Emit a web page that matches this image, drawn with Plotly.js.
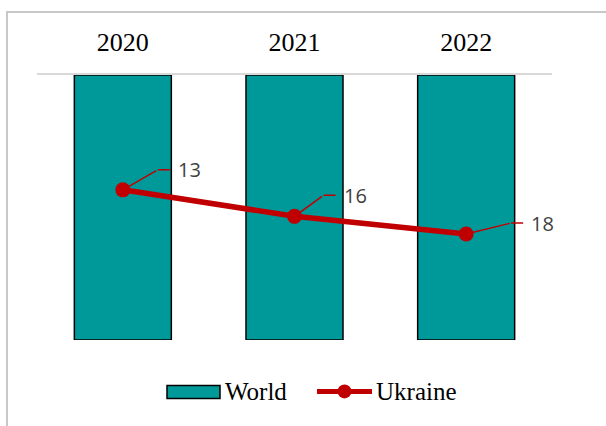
<!DOCTYPE html>
<html><head><meta charset="utf-8">
<script src="https://cdn.plot.ly/plotly-3.0.1.min.js"></script>
<style>
html,body{margin:0;padding:0;background:#fff;overflow:hidden;}
#frame{position:absolute;left:6px;top:11px;width:640px;height:460px;border-left:2px solid #c8c8c8;border-top:2px solid #c8c8c8;}
#chart{position:absolute;left:0;top:0;width:606px;height:426px;}
</style></head><body>
<div id="frame"></div>
<div id="chart"></div>
<script>
// ---- data ----
const years = ['2020', '2021', '2022'];
const worldValues = [30, 30, 30];
const ukraineValues = [13, 16, 18];
const seriesNames = ['World', 'Ukraine'];

// ---- styles ----
const teal = '#009999';
const red = '#c00000';
const serif = 'Liberation Serif, Times New Roman, serif';

// ---- label leader geometry (pixels) ----
const leadDx = [35, 29, 45];
const leadDy = [-20, -21, -11];
const leadH = 12;

// plot area in pixels
const M = {l: 37, r: 54, t: 75, b: 85.5};
const W = 606, H = 426;
const pw = W - M.l - M.r, ph = H - M.t - M.b;
const px = v => (v - M.l) / pw;
const py = v => (H - M.b - v) / ph;

const traces = [
  {
    type: 'bar', name: seriesNames[0], x: years, y: worldValues,
    marker: {color: teal, line: {color: '#000000', width: 1.5}},
    hoverinfo: 'skip', showlegend: false
  },
  {
    type: 'scatter', mode: 'lines+markers', name: seriesNames[1], x: years, y: ukraineValues,
    line: {color: red, width: 5.5},
    marker: {color: red, size: 15},
    hoverinfo: 'skip', showlegend: false
  }
];

const annotations = [];
years.forEach((yr, i) => {
  annotations.push({
    x: i, y: ukraineValues[i], xref: 'x', yref: 'y',
    text: ' ', font: {size: 1},
    showarrow: true, arrowhead: 0, arrowwidth: 1.5, arrowcolor: red,
    ax: leadDx[i], ay: leadDy[i], standoff: 0
  });
  annotations.push({
    x: i, y: ukraineValues[i], xref: 'x', yref: 'y',
    xshift: leadDx[i], yshift: -leadDy[i],
    text: String(ukraineValues[i]),
    font: {family: 'Open Sans, sans-serif', size: 20, color: '#404040'},
    xanchor: 'left', yanchor: 'middle', borderpad: 7,
    showarrow: true, arrowhead: 0, arrowwidth: 1.5, arrowcolor: red,
    ax: leadH, ay: 0, standoff: 0
  });
});

// ---- legend (drawn by hand to match the wide swatches) ----
annotations.push({
  xref: 'paper', yref: 'paper', x: px(223), y: py(392), xanchor: 'left', yanchor: 'middle',
  text: seriesNames[0], showarrow: false, font: {family: serif, size: 25, color: '#000'}
});
annotations.push({
  xref: 'paper', yref: 'paper', x: px(374), y: py(392), xanchor: 'left', yanchor: 'middle',
  text: seriesNames[1], showarrow: false, font: {family: serif, size: 25, color: '#000'}
});
const shapes = [
  {type: 'rect', xref: 'paper', yref: 'paper', x0: px(167), x1: px(220), y0: py(386), y1: py(399),
   fillcolor: teal, line: {color: '#000', width: 1.5}},
  {type: 'line', xref: 'paper', yref: 'paper', x0: px(317), x1: px(372), y0: py(392), y1: py(392),
   line: {color: red, width: 5}},
  {type: 'circle', xref: 'paper', yref: 'paper', x0: px(337.5), x1: px(351.5), y0: py(385), y1: py(399),
   fillcolor: red, line: {color: red, width: 0}}
];

const layout = {
  width: W, height: H,
  margin: M,
  paper_bgcolor: 'rgba(0,0,0,0)', plot_bgcolor: 'rgba(0,0,0,0)',
  bargap: 0.435,
  showlegend: false,
  xaxis: {
    type: 'category', range: [-0.5, 2.5], side: 'top', showline: true, linecolor: '#d9d9d9', linewidth: 2,
    ticks: '', showgrid: false, zeroline: false, fixedrange: true,
    tickfont: {family: serif, size: 26, color: '#000'},
    ticklabelstandoff: 12
  },
  yaxis: {
    range: [30, 0], showticklabels: false, showgrid: false, zeroline: false,
    showline: false, ticks: '', fixedrange: true
  },
  annotations: annotations,
  shapes: shapes
};

Plotly.newPlot('chart', traces, layout, {staticPlot: true});
</script>
</body></html>
